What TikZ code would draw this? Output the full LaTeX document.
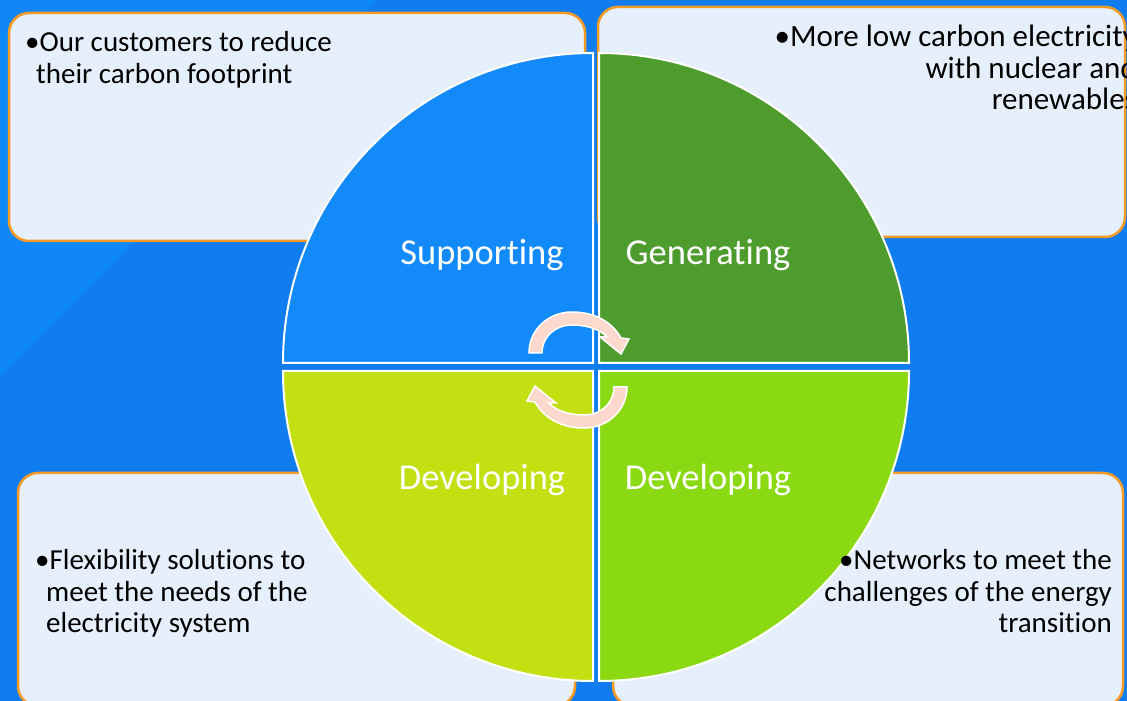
\documentclass[tikz,border=0pt]{standalone}
\usepackage{fontspec}
\setmainfont{Carlito}[Ligatures=CommonOff]
\usetikzlibrary{positioning}

\definecolor{bgblue}{HTML}{0F7DEF}
\definecolor{bglight}{HTML}{1087F8}
\definecolor{boxfill}{HTML}{E6F0FC}
\definecolor{boxorange}{HTML}{F59A25}
\definecolor{supblue}{HTML}{128AFA}
\definecolor{gengreen}{HTML}{4E9C2E}
\definecolor{devlime}{HTML}{C2E012}
\definecolor{devgreen}{HTML}{8AD912}
\definecolor{arrowpink}{HTML}{FDD8CC}

\begin{document}
\begin{tikzpicture}[x=1pt, y=1pt,
    box/.style={draw=boxorange, line width=2.5pt, fill=boxfill, rounded corners=20pt},
    quad/.style={draw=white, line width=2pt},
    quadlabel/.style={text=white, inner sep=0pt, font=\fontsize{36.5}{40}\selectfont},
    note/.style={text=black, inner sep=0pt, font=\fontsize{29}{31.5}\selectfont},
    cyclearrow/.pic={
        \filldraw[fill=arrowpink, draw=white, line width=1.5pt]
            (-49,17) .. controls (-49,40) and (-30,58) .. (-6,58)
            .. controls (17,58) and (34,48) .. (43,32)
            -- (51,31) -- (43,16) -- (22,33) -- (29,33)
            .. controls (23,40) and (10,45) .. (-6,45)
            .. controls (-23,45) and (-36,33) .. (-36,17) -- cycle;
    }]
    \useasboundingbox (0,0) rectangle (1127,701);
    \clip (0,0) rectangle (1127,701);

    % Background
    \fill[bgblue] (0,0) rectangle (1127,701);
    \fill[bglight] (0,324) -- (0,701) -- (377,701) -- cycle;

    % Text boxes
    \draw[box] (9,460) rectangle (585,688);
    \draw[box] (598,464) rectangle (1125,694);
    \draw[box] (18,-5) rectangle (575,228);
    \draw[box] (613,-5) rectangle (1123,228);

    % Quarter circles
    \filldraw[quad, fill=supblue] (593,338) -- ++(-310,0) arc (180:90:310) -- cycle;
    \filldraw[quad, fill=gengreen] (599,338) -- ++(0,310) arc (90:0:310) -- cycle;
    \filldraw[quad, fill=devlime] (593,330) -- ++(0,-310) arc (270:180:310) -- cycle;
    \filldraw[quad, fill=devgreen] (599,330) -- ++(310,0) arc (0:-90:310) -- cycle;

    % Cycle arrows
    \pic at (578,331) {cyclearrow};
    \pic[rotate=180] at (578,331) {cyclearrow};

    % Quarter labels
    \node[quadlabel, anchor=base] (supporting) at (482,436) {Supporting};
    \node[quadlabel, anchor=base] (generating) at (708,436) {Generating};
    \node[quadlabel, anchor=base] (devleft) at (482,211) {Developing};
    \node[quadlabel, anchor=base] (devright) at (708,211) {Developing};

    % Box texts (base = last line)
    \node[note, anchor=base west, align=left] (custnote) at (25,617.5)
        {•Our customers to reduce\\\hspace*{11pt}their carbon footprint};
    \node[note, anchor=base east, align=right, font=\fontsize{31}{31.5}\selectfont] (gennote) at (1137,591)
        {•More low carbon electricity\\with nuclear and\\renewables};
    \node[note, anchor=base west, align=left] (flexnote) at (35,68)
        {•Flexibility solutions to\\\hspace*{11pt}meet the needs of the\\\hspace*{11pt}electricity system};
    \node[note, anchor=base east, align=right] (netnote) at (1112,68)
        {•Networks to meet the\\challenges of the energy\\transition};
\end{tikzpicture}
\end{document}
